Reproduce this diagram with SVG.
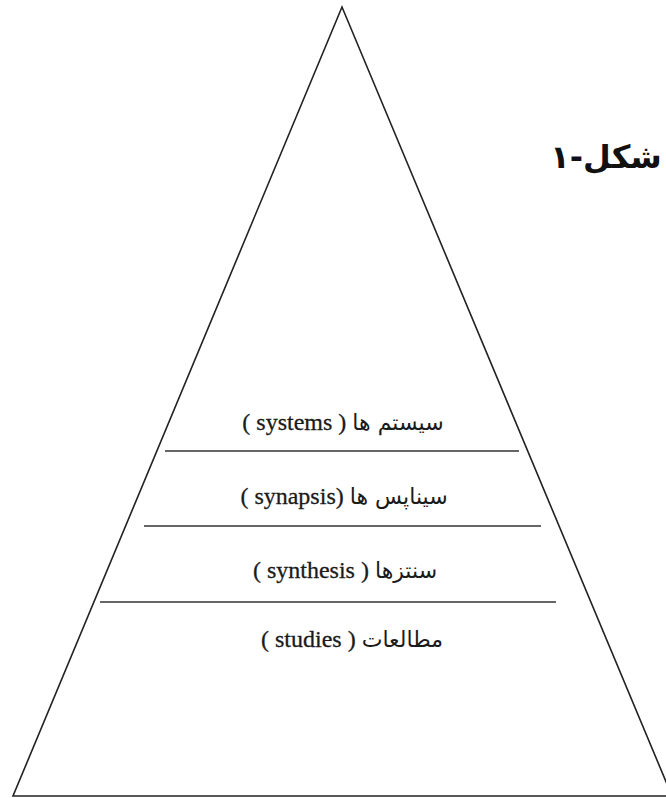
<svg xmlns="http://www.w3.org/2000/svg" width="666" height="798" viewBox="0 0 666 798">
<style>
.edge{fill:none;stroke:#222;stroke-width:1.6}
.sep{stroke:#333;stroke-width:1.6}
.lbl{font-family:"Liberation Serif","Times New Roman",serif;font-size:24px;fill:#1a1a1a;stroke:#1a1a1a;stroke-width:0.3;direction:rtl;text-anchor:middle}
.ar{font-family:"DejaVu Sans",sans-serif;font-size:22px;stroke-width:0}
.title{font-family:"DejaVu Sans","Noto Sans",sans-serif;font-size:32px;font-weight:bold;fill:#111;direction:rtl;text-anchor:middle}
</style>
<rect width="666" height="798" fill="#fff"/>
<g id="pyramid">
<polygon class="edge" points="342,7 13,796 672,796"/>
</g>
<g id="connectors">
<line class="sep" x1="165" y1="451" x2="519" y2="451"/>
<line class="sep" x1="144" y1="526" x2="541" y2="526"/>
<line class="sep" x1="100" y1="602" x2="556" y2="602"/>
</g>
<g id="title"><text class="title" x="606" y="168">شکل-۱</text></g>
<g id="systems"><text class="lbl" x="343" y="430"><tspan class="ar">سیستم ها</tspan> ( systems )</text></g>
<g id="synapsis"><text class="lbl" x="344" y="504"><tspan class="ar">سیناپس ها</tspan> (synapsis )</text></g>
<g id="synthesis"><text class="lbl" x="345" y="578"><tspan class="ar">سنتزها</tspan> ( synthesis )</text></g>
<g id="studies"><text class="lbl" x="352" y="647"><tspan class="ar">مطالعات</tspan> ( studies )</text></g>
</svg>
